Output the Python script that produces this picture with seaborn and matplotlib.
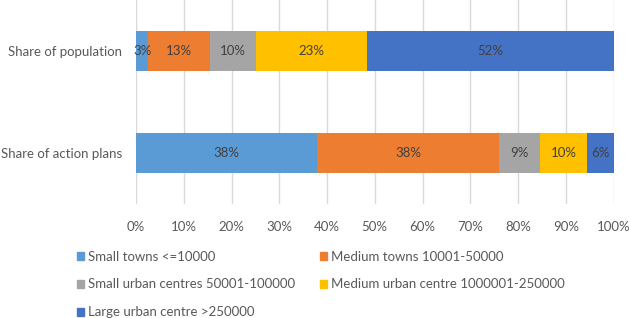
import pandas as pd
import matplotlib.pyplot as plt
import seaborn as sns
from matplotlib.patches import Patch

# Data (percent)
categories = ['Share of population', 'Share of action plans']
groups = ['Small towns <=10000', 'Medium towns 10001-50000',
          'Small urban centres 50001-100000', 'Medium urban centre 1000001-250000',
          'Large urban centre >250000']
population = [2.6, 12.9, 9.7, 23.1, 51.7]
action_plans = [38.0, 38.1, 8.6, 9.7, 5.6]
colors = ['#5B9BD5', '#ED7D31', '#A5A5A5', '#FFC000', '#4472C4']

df = pd.DataFrame({'group': groups * 2,
                   'category': [categories[0]] * 5 + [categories[1]] * 5,
                   'value': population + action_plans})
df['left'] = df.groupby('category')['value'].cumsum() - df['value']

sns.set_style('white')
plt.rcParams['font.family'] = ['Lato', 'DejaVu Sans']

fig = plt.figure(figsize=(6.29, 3.18), dpi=100)
ax = fig.add_axes([136 / 629, 1 - 204 / 318, 477.5 / 629, 204 / 318])

# stacked horizontal bars, one seaborn call per segment group
for g, c in zip(groups, colors):
    sub = df[df['group'] == g]
    sns.barplot(data=sub, x='value', y='category', left=sub['left'].values,
                color=c, width=0.4, orient='h', ax=ax, order=categories,
                saturation=1, linewidth=0)

for cont in ax.containers:
    for bar in cont:
        w = bar.get_width()
        ax.text(bar.get_x() + w / 2, bar.get_y() + bar.get_height() / 2,
                f'{w:.0f}%', ha='center', va='center', fontsize=9.5, color='#404040')

ax.set_xlim(0, 100)
ax.set_ylim(1.5, -0.5)
ax.set_xticks(range(0, 101, 10))
ax.set_xticklabels([f'{t}%' for t in range(0, 101, 10)])
ax.xaxis.grid(True, color='#D9D9D9', linewidth=1)
ax.set_axisbelow(True)
for s in ax.spines.values():
    s.set_visible(False)
ax.tick_params(axis='x', length=0, pad=12.5, labelsize=9.5, labelcolor='#595959')
ax.tick_params(axis='y', length=0, pad=10, labelsize=9.5, labelcolor='#595959')
ax.set_xlabel('')
ax.set_ylabel('')

# legend filled row by row like the original (matplotlib fills by column)
handles = [Patch(color=c) for c in colors]
order = [0, 2, 4, 1, 3]
fig.legend([handles[i] for i in order], [groups[i] for i in order],
           loc='upper left', bbox_to_anchor=(70 / 629, 1 - 244 / 318), ncol=2,
           frameon=False, fontsize=9.5, labelcolor='#595959',
           handlelength=0.55, handleheight=0.55, handletextpad=0.3,
           columnspacing=1.9, labelspacing=1.2, borderpad=0)

plt.savefig('out.png', dpi=100)
